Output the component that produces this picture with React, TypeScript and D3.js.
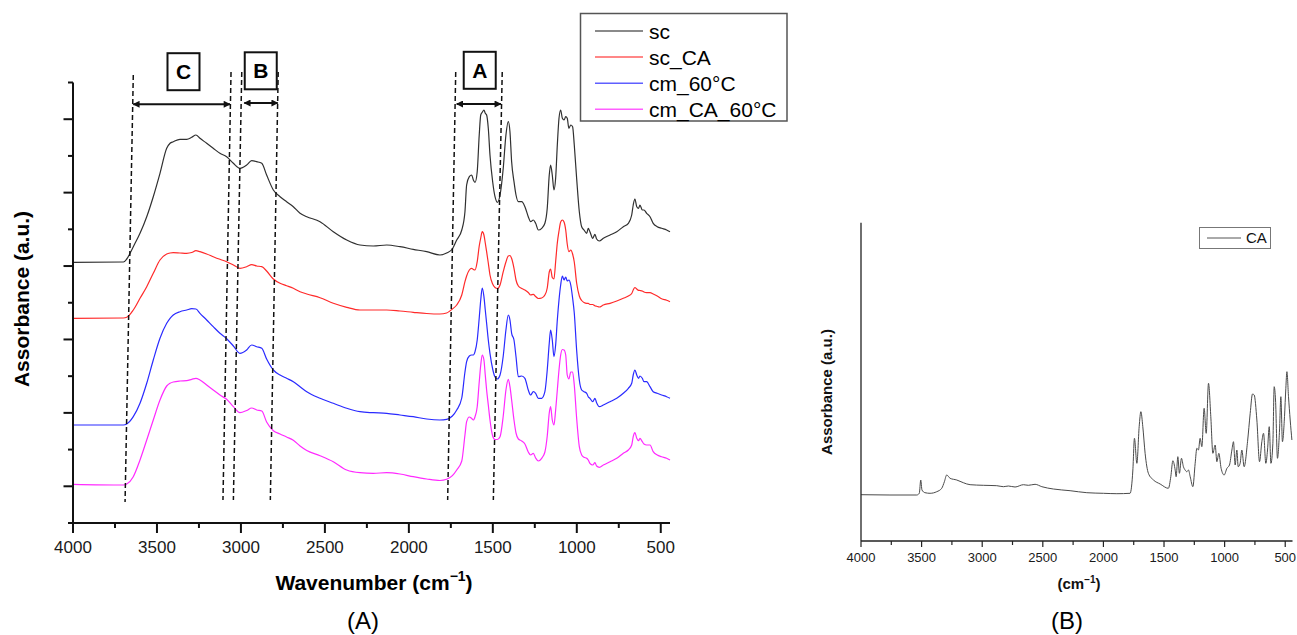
import React from "react";
import * as d3 from "d3";

const width = 1297,
  height = 635;
const font = "'Liberation Sans', Arial, Helvetica, sans-serif";

// ---------- panel (A): FTIR spectra, offset absorbance (a.u.) ----------
const wavenumbers = [
  4000, 3700, 3680, 3641, 3601, 3561, 3522, 3482, 3442, 3422,
  3403, 3363, 3323, 3293, 3268, 3244, 3204, 3165, 3125, 3085,
  3045, 3006, 2966, 2936, 2906, 2876, 2847, 2807, 2767, 2728,
  2688, 2648, 2608, 2529, 2450, 2370, 2291, 2212, 2132, 2053,
  1974, 1894, 1815, 1775, 1741, 1715, 1685, 1666, 1656, 1640,
  1626, 1616, 1606, 1593, 1581, 1572, 1563, 1553, 1545, 1537,
  1527, 1517, 1501, 1487, 1473, 1457, 1438, 1422, 1408, 1398,
  1388, 1374, 1362, 1348, 1328, 1309, 1289, 1275, 1259, 1245,
  1229, 1209, 1190, 1176, 1164, 1156, 1146, 1136, 1126, 1116,
  1106, 1096, 1086, 1076, 1066, 1057, 1047, 1036, 1025, 1015,
  1001, 985, 971, 957, 941, 932, 922, 905, 892, 882,
  866, 842, 802, 762, 723, 693, 673, 664, 654, 643,
  632, 624, 610, 600, 584, 564, 545, 521, 495, 465, 445,
];

const sc = [
  2.607, 2.61, 2.64, 2.763, 2.897, 3.063, 3.263, 3.497, 3.747, 3.797,
  3.813, 3.837, 3.837, 3.857, 3.88, 3.847, 3.797, 3.747, 3.697, 3.663,
  3.597, 3.547, 3.58, 3.623, 3.613, 3.597, 3.48, 3.33, 3.263, 3.213,
  3.163, 3.097, 3.063, 3.013, 2.913, 2.83, 2.78, 2.77, 2.78, 2.763,
  2.737, 2.713, 2.68, 2.7, 2.74, 2.83, 2.93, 3.113, 3.38, 3.463,
  3.48, 3.43, 3.407, 3.513, 3.88, 4.08, 4.107, 4.13, 4.097, 4.08,
  3.947, 3.68, 3.413, 3.263, 3.207, 3.28, 3.547, 3.88, 4.013, 3.913,
  3.613, 3.413, 3.28, 3.213, 3.213, 3.163, 3.063, 3.013, 3.03, 2.997,
  2.93, 2.947, 2.997, 3.147, 3.48, 3.58, 3.48, 3.33, 3.447, 3.78,
  4.047, 4.13, 4.047, 4.03, 4.063, 4.047, 3.947, 3.98, 3.963, 3.78,
  3.447, 3.113, 2.963, 2.93, 2.897, 2.947, 2.913, 2.847, 2.887, 2.84,
  2.82, 2.847, 2.88, 2.913, 2.963, 2.997, 3.08, 3.18, 3.24, 3.163,
  3.147, 3.18, 3.13, 3.13, 3.097, 3.063, 2.997, 2.963, 2.947, 2.93, 2.913,
];

const scCA = [
  2.047, 2.05, 2.057, 2.13, 2.247, 2.363, 2.497, 2.63, 2.69, 2.7,
  2.703, 2.7, 2.697, 2.705, 2.723, 2.713, 2.69, 2.663, 2.637, 2.613,
  2.58, 2.547, 2.563, 2.583, 2.57, 2.563, 2.52, 2.44, 2.397, 2.373,
  2.347, 2.313, 2.29, 2.253, 2.197, 2.157, 2.13, 2.13, 2.13, 2.12,
  2.107, 2.095, 2.09, 2.1, 2.14, 2.18, 2.28, 2.413, 2.47, 2.53,
  2.547, 2.535, 2.53, 2.613, 2.77, 2.85, 2.913, 2.88, 2.8, 2.713,
  2.6, 2.48, 2.39, 2.355, 2.345, 2.38, 2.513, 2.61, 2.67, 2.675,
  2.645, 2.547, 2.43, 2.37, 2.345, 2.33, 2.305, 2.28, 2.287, 2.265,
  2.245, 2.25, 2.28, 2.35, 2.51, 2.54, 2.455, 2.44, 2.613, 2.8,
  2.92, 3.01, 3.03, 3.01, 2.93, 2.79, 2.713, 2.73, 2.69, 2.61,
  2.4, 2.27, 2.225, 2.205, 2.197, 2.197, 2.185, 2.185, 2.173, 2.168,
  2.16, 2.18, 2.197, 2.22, 2.247, 2.27, 2.295, 2.33, 2.355, 2.34,
  2.327, 2.325, 2.32, 2.31, 2.303, 2.303, 2.29, 2.27, 2.243, 2.227, 2.213,
];

const cm60 = [
  0.98, 0.98, 0.99, 1.063, 1.197, 1.397, 1.63, 1.847, 1.997, 2.047,
  2.08, 2.113, 2.13, 2.143, 2.14, 2.097, 2.03, 1.963, 1.897, 1.843,
  1.77, 1.697, 1.73, 1.78, 1.763, 1.747, 1.64, 1.53, 1.48, 1.447,
  1.413, 1.363, 1.313, 1.247, 1.197, 1.147, 1.113, 1.103, 1.097, 1.08,
  1.063, 1.04, 1.03, 1.037, 1.07, 1.13, 1.25, 1.51, 1.613, 1.67,
  1.68, 1.68, 1.713, 1.83, 2.05, 2.23, 2.35, 2.263, 2.13, 1.997,
  1.83, 1.697, 1.54, 1.46, 1.44, 1.48, 1.67, 1.93, 2.08, 2.03,
  1.897, 1.83, 1.663, 1.463, 1.47, 1.447, 1.33, 1.28, 1.313, 1.297,
  1.247, 1.247, 1.313, 1.53, 1.797, 1.93, 1.83, 1.663, 1.78, 2.03,
  2.23, 2.38, 2.47, 2.43, 2.46, 2.42, 2.43, 2.38, 2.25, 2.1,
  1.73, 1.43, 1.33, 1.313, 1.297, 1.263, 1.247, 1.213, 1.247, 1.203,
  1.163, 1.18, 1.213, 1.247, 1.297, 1.347, 1.397, 1.48, 1.53, 1.48,
  1.447, 1.47, 1.447, 1.413, 1.413, 1.363, 1.313, 1.297, 1.28, 1.263, 1.247,
];

const cmCA60 = [
  0.387, 0.38, 0.39, 0.463, 0.63, 0.83, 1.03, 1.23, 1.37, 1.397,
  1.41, 1.42, 1.423, 1.437, 1.447, 1.43, 1.38, 1.33, 1.28, 1.237,
  1.163, 1.103, 1.125, 1.15, 1.13, 1.12, 1.01, 0.923, 0.89, 0.86,
  0.827, 0.77, 0.725, 0.673, 0.613, 0.53, 0.503, 0.497, 0.503, 0.49,
  0.463, 0.44, 0.425, 0.437, 0.473, 0.53, 0.62, 0.88, 1.013, 1.06,
  1.045, 1.03, 1.063, 1.163, 1.41, 1.58, 1.68, 1.63, 1.48, 1.33,
  1.18, 1.03, 0.87, 0.835, 0.835, 0.863, 1.07, 1.33, 1.437, 1.363,
  1.23, 1.03, 0.9, 0.84, 0.82, 0.79, 0.71, 0.68, 0.697, 0.65,
  0.62, 0.647, 0.71, 0.87, 1.1, 1.163, 1.03, 0.98, 1.13, 1.33,
  1.53, 1.68, 1.735, 1.73, 1.68, 1.48, 1.44, 1.51, 1.51, 1.38,
  1.05, 0.763, 0.68, 0.657, 0.647, 0.63, 0.597, 0.58, 0.603, 0.57,
  0.557, 0.58, 0.613, 0.647, 0.697, 0.73, 0.78, 0.863, 0.903, 0.847,
  0.823, 0.847, 0.813, 0.79, 0.78, 0.78, 0.713, 0.68, 0.663, 0.647, 0.63,
];

const seriesNames = ["sc", "sc_CA", "cm_60°C", "cm_CA_60°C"];
const seriesColors = ["#303030", "#ff2a2a", "#2a2aff", "#ff2aff"];
const series = [sc, scCA, cm60, cmCA60];

const xTicks = [4000, 3500, 3000, 2500, 2000, 1500, 1000, 500];
const xTickLabels = ["4000", "3500", "3000", "2500", "2000", "1500", "1000", "500"];

// dashed guide lines, slightly slanted (wavenumber at top and at bottom)
const guideTopW = [3641, 3059, 2995, 2778, 1721, 1444];
const guideBottomW = [3690, 3107, 3045, 2825, 1769, 1497];
const guideTopY = [4.48, 4.51, 4.51, 4.51, 4.51, 4.51];
const guideBottomY = [0.21, 0.23, 0.23, 0.23, 0.23, 0.23];

// bracketed regions
const regionNames = ["C", "B", "A"];
const regionFrom = [3641, 2980, 1715];
const regionTo = [3065, 2781, 1452];
const regionArrowY = [4.187, 4.2, 4.19];
const regionLabelW = [3342, 2882, 1578];
const regionLabelY = [4.513, 4.522, 4.527];

// ---------- panel (B): CA spectrum ----------
const caWavenumbers = [
  4000, 3761, 3540, 3519, 3507, 3497, 3472, 3430, 3375, 3334,
  3312, 3293, 3265, 3210, 3156, 3100, 2991, 2880, 2825, 2784,
  2729, 2660, 2619, 2564, 2508, 2413, 2275, 2137, 2000, 1889,
  1780, 1757, 1744, 1724, 1705, 1691, 1675, 1656, 1629, 1587,
  1532, 1464, 1444, 1427, 1408, 1400, 1386, 1373, 1356, 1340,
  1326, 1312, 1298, 1284, 1262, 1243, 1229, 1216, 1202, 1188,
  1169, 1152, 1133, 1114, 1097, 1078, 1064, 1048, 1029, 1004,
  981, 960, 940, 927, 913, 899, 888, 872, 858, 839,
  811, 789, 770, 756, 734, 712, 693, 679, 660, 646,
  632, 618, 602, 591, 580, 564, 547, 536, 523, 506,
  495, 486, 473, 459, 445,
];
const caAbsorbance = [
  0.463, 0.46, 0.46, 0.477, 0.61, 0.51, 0.483, 0.477, 0.493, 0.527,
  0.593, 0.66, 0.627, 0.61, 0.583, 0.563, 0.557, 0.553, 0.543, 0.55,
  0.54, 0.563, 0.557, 0.567, 0.543, 0.52, 0.503, 0.483, 0.477, 0.473,
  0.477, 0.71, 1.027, 0.777, 1.143, 1.293, 1.143, 0.877, 0.677, 0.61,
  0.57, 0.527, 0.643, 0.803, 0.71, 0.643, 0.843, 0.677, 0.827, 0.743,
  0.71, 0.693, 0.71, 0.643, 0.543, 0.777, 0.927, 0.91, 1.027, 0.943,
  1.327, 1.077, 1.577, 1.243, 0.877, 0.96, 0.793, 0.877, 0.727, 0.66,
  0.727, 0.76, 0.91, 0.993, 0.76, 0.91, 0.743, 0.777, 0.91, 0.743,
  0.993, 1.277, 1.47, 1.46, 1.21, 0.793, 0.993, 1.077, 0.777, 0.91,
  1.143, 0.777, 0.977, 1.543, 1.41, 0.827, 1.11, 1.443, 0.993, 1.243,
  1.527, 1.693, 1.443, 1.21, 1.01,
];

/** Left panel: four offset spectra with the A/B/C band markers. */
function PanelA() {
  const x = d3.scaleLinear().domain([4000, 445]).range([73, 670]);
  const y = d3.scaleLinear().domain([0, 4.405]).range([523, 82.5]);

  const line = d3
    .line<number>()
    .x((_, i) => x(wavenumbers[i]))
    .y((d) => y(d))
    .curve(d3.curveMonotoneX);

  // 12 equal intervals on the y axis, long ticks on odd ones
  const yTicks = d3.range(0, 13).map((k) => (k * 4.405) / 12);
  const minorX = d3.range(3750, 445, -500);
  const [r0, r1] = y.range();

  return (
    <g>
      {series.map((s, i) => (
        <path
          key={seriesNames[i]}
          d={line(s) || ""}
          fill="none"
          stroke={seriesColors[i]}
          strokeWidth={1.2}
        />
      ))}

      {/* dashed guides */}
      {guideTopW.map((w, i) => (
        <line
          key={"g" + i}
          x1={x(w)}
          y1={y(guideTopY[i])}
          x2={x(guideBottomW[i])}
          y2={y(guideBottomY[i])}
          stroke="#111"
          strokeWidth={1.5}
          strokeDasharray="5,3"
        />
      ))}

      {/* region brackets and boxed letters */}
      {regionNames.map((name, i) => (
        <g key={name}>
          <line
            x1={x(regionFrom[i])}
            x2={x(regionTo[i])}
            y1={y(regionArrowY[i])}
            y2={y(regionArrowY[i])}
            stroke="#111"
            strokeWidth={2}
            markerStart="url(#arrowA)"
            markerEnd="url(#arrowA)"
          />
          <rect
            x={x(regionLabelW[i]) - 16}
            y={y(regionLabelY[i]) - 18.5}
            width={32}
            height={37}
            fill="#fff"
            stroke="#111"
            strokeWidth={2}
          />
          <text
            x={x(regionLabelW[i])}
            y={y(regionLabelY[i])}
            dy="0.36em"
            textAnchor="middle"
            fontSize={21}
            fontWeight="bold"
            fontFamily={font}
            fill="#000"
          >
            {name}
          </text>
        </g>
      ))}

      {/* axes */}
      <line x1={x(4000)} x2={x(4000)} y1={r1} y2={r0} stroke="#111" strokeWidth={2} />
      <line x1={x(4000) - 5} x2={x(445)} y1={r0} y2={r0} stroke="#111" strokeWidth={2} />
      {yTicks.map((v, k) => (
        <line
          key={"yt" + k}
          x1={x(4000) - (k % 2 === 1 ? 9.5 : 5)}
          x2={x(4000)}
          y1={y(v)}
          y2={y(v)}
          stroke="#111"
          strokeWidth={2}
        />
      ))}
      {xTicks.map((t, i) => (
        <g key={"xt" + t}>
          <line x1={x(t)} x2={x(t)} y1={r0} y2={r0 + 10} stroke="#111" strokeWidth={2} />
          <text
            x={x(t)}
            y={547}
            dy="0.36em"
            textAnchor="middle"
            fontSize={17}
            fontFamily={font}
            fill="#1a1a1a"
          >
            {xTickLabels[i]}
          </text>
        </g>
      ))}
      {minorX.map((t) => (
        <line key={"xm" + t} x1={x(t)} x2={x(t)} y1={r0} y2={r0 + 5} stroke="#111" strokeWidth={2} />
      ))}

      <text
        x={374}
        y={589.5}
        textAnchor="middle"
        fontSize={21}
        fontWeight="bold"
        fontFamily={font}
        fill="#000"
      >
        Wavenumber (cm
        <tspan dy={-9} fontSize={14}>
          −1
        </tspan>
        <tspan dy={9}>)</tspan>
      </text>
      <text
        transform="translate(28.5,299) rotate(-90)"
        textAnchor="middle"
        fontSize={21}
        fontWeight="bold"
        fontFamily={font}
        fill="#000"
      >
        Assorbance (a.u.)
      </text>

      {/* legend */}
      <rect x={580.5} y={13.5} width={206.5} height={107.5} fill="#fff" stroke="#555" strokeWidth={1.5} />
      {seriesNames.map((n, i) => (
        <g key={"lg" + n} transform={`translate(0,${31 + i * 26.1})`}>
          <line x1={595} x2={643} y1={0} y2={0} stroke={seriesColors[i]} strokeWidth={1.5} opacity={0.75} />
          <text x={649} y={0} dy="0.36em" fontSize={21} fontFamily={font} fill="#000">
            {n}
          </text>
        </g>
      ))}

      <text x={363} y={629} textAnchor="middle" fontSize={24} fontFamily={font} fill="#000">
        (A)
      </text>
    </g>
  );
}

/** Right panel: spectrum of CA alone. */
function PanelB() {
  const x = d3.scaleLinear().domain([4000, 440]).range([861, 1292.5]);
  const y = d3.scaleLinear().domain([0, 3.183]).range([541, 222.7]);
  const line = d3
    .line<number>()
    .x((_, i) => x(caWavenumbers[i]))
    .y((d) => y(d))
    .curve(d3.curveMonotoneX);
  const minorX = d3.range(3750, 440, -500);
  const [r0, r1] = y.range();

  return (
    <g>
      <path d={line(caAbsorbance) || ""} fill="none" stroke="#4a4a4a" strokeWidth={1} />
      <line x1={x(4000)} x2={x(4000)} y1={r1} y2={r0} stroke="#222" strokeWidth={1.3} />
      <line x1={x(4000)} x2={x(440)} y1={r0} y2={r0} stroke="#222" strokeWidth={1.3} />
      {xTicks.map((t, i) => (
        <g key={"bt" + t}>
          <line x1={x(t)} x2={x(t)} y1={r0} y2={r0 + 6} stroke="#222" strokeWidth={1.2} />
          <text
            x={x(t)}
            y={557.5}
            dy="0.36em"
            textAnchor="middle"
            fontSize={13}
            fontFamily={font}
            fill="#1a1a1a"
          >
            {xTickLabels[i]}
          </text>
        </g>
      ))}
      {minorX.map((t) => (
        <line key={"bm" + t} x1={x(t)} x2={x(t)} y1={r0} y2={r0 + 4} stroke="#222" strokeWidth={1.2} />
      ))}
      <text x={1079} y={589} textAnchor="middle" fontSize={15} fontWeight="bold" fontFamily={font} fill="#111">
        (cm
        <tspan dy={-6} fontSize={10}>
          −1
        </tspan>
        <tspan dy={6}>)</tspan>
      </text>
      <text
        transform="translate(831.5,392) rotate(-90)"
        textAnchor="middle"
        fontSize={15}
        fontWeight="bold"
        fontFamily={font}
        fill="#111"
      >
        Assorbance (a.u.)
      </text>

      <rect x={1199.5} y={227.5} width={71} height={21} fill="#fff" stroke="#777" strokeWidth={1} />
      <line x1={1207} x2={1241} y1={238} y2={238} stroke="#555" strokeWidth={1} />
      <text x={1246} y={238} dy="0.36em" fontSize={15} fontFamily={font} fill="#111">
        CA
      </text>

      <text x={1067} y={629} textAnchor="middle" fontSize={24} fontFamily={font} fill="#000">
        (B)
      </text>
    </g>
  );
}

export default function App() {
  return (
    <svg
      width={width}
      height={height}
      style={{ position: "absolute", left: 0, top: 0, background: "#fff" }}
    >
      <defs>
        <marker
          id="arrowA"
          viewBox="0 0 10 10"
          refX={9}
          refY={5}
          markerWidth={8}
          markerHeight={7}
          markerUnits="userSpaceOnUse"
          orient="auto-start-reverse"
        >
          <path d="M0,0 L10,5 L0,10 z" fill="#111" />
        </marker>
      </defs>
      <rect width={width} height={height} fill="#fff" />
      <PanelA />
      <PanelB />
    </svg>
  );
}
